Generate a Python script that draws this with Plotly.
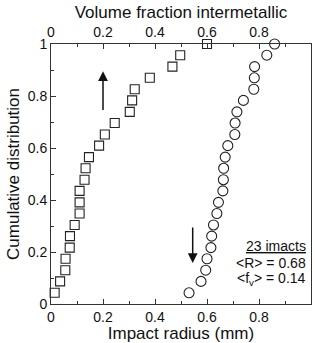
import plotly.graph_objects as go

# Cumulative distribution values (y)
cum = [0.043, 0.087, 0.13, 0.174, 0.217, 0.261, 0.304, 0.348, 0.391, 0.435, 0.478, 0.522,
       0.565, 0.609, 0.652, 0.696, 0.739, 0.783, 0.826, 0.870, 0.913, 0.957, 1.0]
# Volume fraction intermetallic (top axis, squares)
vol_frac = [0.014, 0.035, 0.055, 0.056, 0.072, 0.073, 0.091, 0.11, 0.11, 0.11, 0.129, 0.133,
            0.146, 0.185, 0.207, 0.245, 0.303, 0.312, 0.322, 0.38, 0.467, 0.497, 0.6]
# Impact radius in mm (bottom axis, circles)
radius = [0.531, 0.577, 0.595, 0.60, 0.615, 0.618, 0.625, 0.638, 0.644, 0.661, 0.663, 0.664,
          0.67, 0.68, 0.707, 0.708, 0.715, 0.74, 0.78, 0.782, 0.783, 0.83, 0.86]

ticks = [0, 0.2, 0.4, 0.6, 0.8, 1]
tick_text = ["0", "0.2", "0.4", "0.6", "0.8", "1"]

FONT = "Liberation Sans, Arial, sans-serif"

fig = go.Figure()
fig.add_trace(go.Scatter(x=radius, y=cum, mode="markers", xaxis="x", yaxis="y",
                         marker=dict(symbol="circle-open", size=10, color="#222",
                                     line=dict(width=1.1, color="#222")),
                         cliponaxis=False, showlegend=False))
fig.add_trace(go.Scatter(x=vol_frac, y=cum, mode="markers", xaxis="x2", yaxis="y",
                         marker=dict(symbol="square-open", size=9, color="#222",
                                     line=dict(width=1.1, color="#222")),
                         cliponaxis=False, showlegend=False))

axis_common = dict(range=[0, 1], tickvals=ticks, ticktext=tick_text, ticks="inside",
                   ticklen=5, tickwidth=1, tickcolor="#333", showgrid=False, zeroline=False,
                   showline=True, linecolor="#333", linewidth=1,
                   tickfont=dict(size=14, color="#111", family=FONT),
                   minor=dict(ticks="inside", ticklen=3, tickwidth=1, tickcolor="#333",
                              dtick=0.1, showgrid=False))

fig.update_layout(
    width=315, height=343,
    margin=dict(l=51, r=4, t=44, b=39),
    paper_bgcolor="white", plot_bgcolor="white",
    font=dict(family=FONT, color="#111"),
    xaxis=dict(**axis_common,
               title=dict(text="Impact radius (mm)", font=dict(size=17), standoff=1)),
    xaxis2=dict(**axis_common, overlaying="x", side="top", anchor="y",
                title=dict(text="Volume fraction intermetallic", font=dict(size=17), standoff=1)),
    yaxis=dict(**axis_common, mirror=True,
               title=dict(text="Cumulative distribution", font=dict(size=17), standoff=3)),
)

# arrows
fig.add_annotation(x=0.2, y=0.895, ax=0.2, ay=0.74, xref="x", yref="y", axref="x", ayref="y",
                   showarrow=True, arrowhead=2, arrowsize=1.3, arrowwidth=1.5, arrowcolor="#111", text="")
fig.add_annotation(x=0.545, y=0.158, ax=0.545, ay=0.30, xref="x", yref="y", axref="x", ayref="y",
                   showarrow=True, arrowhead=2, arrowsize=1.3, arrowwidth=1.5, arrowcolor="#111", text="")

# summary text
fig.add_annotation(x=0.99, y=0.225, xref="x", yref="y", xanchor="right", yanchor="middle",
                   text="<u>23 imacts</u>", showarrow=False, font=dict(size=14, family=FONT))
fig.add_annotation(x=0.99, y=0.158, xref="x", yref="y", xanchor="right", yanchor="middle",
                   text="&lt;R&gt; = 0.68", showarrow=False, font=dict(size=14, family=FONT))
fig.add_annotation(x=0.99, y=0.096, xref="x", yref="y", xanchor="right", yanchor="middle",
                   text="&lt;f<sub>v</sub>&gt; = 0.14", showarrow=False, font=dict(size=14, family=FONT))

fig.write_html("out.html")
